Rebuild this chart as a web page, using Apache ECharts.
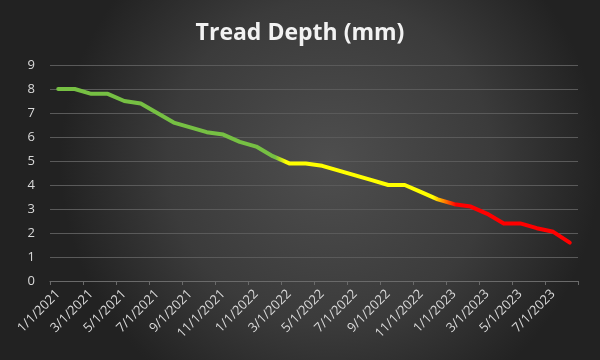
<!DOCTYPE html>
<html><head><meta charset="utf-8">
<script src="https://cdn.jsdelivr.net/npm/echarts@6/dist/echarts.min.js"></script>
<style>html,body{margin:0;padding:0;background:#333;}#c{width:600px;height:360px;}</style>
</head><body><div id="c"></div>
<script>
const months = ["1/1/2021","2/1/2021","3/1/2021","4/1/2021","5/1/2021","6/1/2021","7/1/2021","8/1/2021","9/1/2021","10/1/2021","11/1/2021","12/1/2021",
"1/1/2022","2/1/2022","3/1/2022","4/1/2022","5/1/2022","6/1/2022","7/1/2022","8/1/2022","9/1/2022","10/1/2022","11/1/2022","12/1/2022",
"1/1/2023","2/1/2023","3/1/2023","4/1/2023","5/1/2023","6/1/2023","7/1/2023","8/1/2023"];
const treadDepth = [8.0,8.0,7.8,7.8,7.5,7.4,7.0,6.6,6.4,6.2,6.1,5.8,5.6,5.2,4.9,4.9,4.8,4.6,4.4,4.2,4.0,4.0,3.7,3.4,3.2,3.1,2.8,2.4,2.4,2.2,2.05,1.6];
const yTicks = [0,1,2,3,4,5,6,7,8,9];

const chart = echarts.init(document.getElementById('c'), null, {renderer:'canvas'});
chart.setOption({
  animation:false,
  backgroundColor:{type:'radial',x:0.55,y:0.45,r:0.75,colorStops:[{offset:0,color:'#4e4e4e'},{offset:0.6,color:'#3b3b3b'},{offset:1,color:'#222222'}]},
  title:{text:'Tread Depth (mm)',left:'center',top:17,textStyle:{color:'#f2f2f2',fontSize:23,fontWeight:'bold',fontFamily:'Open Sans'}},
  grid:{left:50,right:22,top:65,bottom:79},
  xAxis:{type:'category',data:months,boundaryGap:true,
    axisLine:{lineStyle:{color:'#6a6a6a',width:1}},
    axisTick:{show:true,interval:1,length:4,lineStyle:{color:'#6a6a6a'}},
    axisLabel:{interval:1,rotate:45,color:'#d9d9d9',fontSize:13,fontFamily:'Open Sans',margin:11}},
  yAxis:{type:'value',min:yTicks[0],max:yTicks[yTicks.length-1],interval:1,
    axisLine:{show:false},axisTick:{show:false},
    axisLabel:{color:'#d9d9d9',fontSize:13,fontFamily:'Open Sans',margin:15}},
  series:[{type:'line',data:treadDepth,symbol:'none',smooth:false,
    lineStyle:{width:4,cap:'round',join:'round',color:{type:'linear',x:0,y:0,x2:1,y2:0,colorStops:[
      {offset:0,color:'#76c043'},{offset:0.425,color:'#76c043'},{offset:0.445,color:'#ffff00'},
      {offset:0.73,color:'#ffff00'},{offset:0.775,color:'#ff0000'},{offset:1,color:'#ff0000'}]}}}]
});
chart.setOption({yAxis:{splitLine:{lineStyle:{color:'#5a5a5a',width:1}}}});
</script></body></html>
